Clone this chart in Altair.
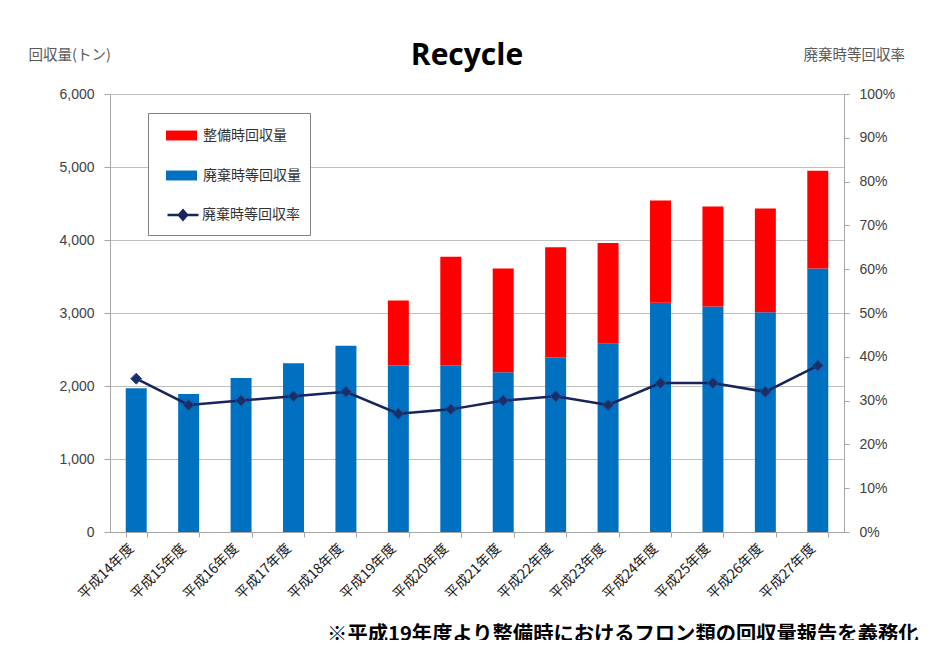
import altair as alt
import pandas as pd

# ---- data ----
years = ["平成14年度", "平成15年度", "平成16年度", "平成17年度", "平成18年度", "平成19年度", "平成20年度",
         "平成21年度", "平成22年度", "平成23年度", "平成24年度", "平成25年度", "平成26年度", "平成27年度"]
haiki_amount = [1970, 1890, 2110, 2310, 2550, 2280, 2280, 2190, 2390, 2580, 3140, 3090, 3010, 3610]
seibi_amount = [0, 0, 0, 0, 0, 890, 1490, 1420, 1510, 1380, 1400, 1370, 1420, 1340]
haiki_rate = [0.35, 0.29, 0.30, 0.31, 0.32, 0.27, 0.28, 0.30, 0.31, 0.29, 0.34, 0.34, 0.32, 0.38]

bar_names = ["整備時回収量", "廃棄時等回収量"]
bar_colors = ["#FF0000", "#0070C0"]
line_name = "廃棄時等回収率"
line_color = "#17245E"
marker_color = "#17306B"

left_ticks = [0, 1000, 2000, 3000, 4000, 5000, 6000]
right_ticks = [0, 0.1, 0.2, 0.3, 0.4, 0.5, 0.6, 0.7, 0.8, 0.9, 1.0]

title_text = "Recycle"
left_title = "回収量(トン)"
right_title = "廃棄時等回収率"
note_text = "※平成19年度より整備時におけるフロン類の回収量報告を義務化"

# ---- tables ----
rows = []
for y, h, s in zip(years, haiki_amount, seibi_amount):
    rows.append({"年度": y, "系列": bar_names[1], "回収量": h, "順": 0})
    rows.append({"年度": y, "系列": bar_names[0], "回収量": s, "順": 1})
bars_df = pd.DataFrame(rows)
rate_df = pd.DataFrame({"年度": years, "回収率": haiki_rate, "系列": [line_name] * len(years)})

JP = "Noto Sans CJK JP"
NUM = "Liberation Sans"

RECT_PATH = "M-1,-0.32H1V0.32H-1Z"
LINE_PATH = "M-1,0H1M0,-0.3L0.26,0L0,0.3L-0.26,0Z"

legend_bars = alt.Legend(
    title=None, orient="none", legendX=56, legendY=26, direction="vertical",
    symbolType=RECT_PATH, symbolSize=961, symbolStrokeWidth=0,
    labelFont=JP, labelFontSize=14, labelColor="#333333", labelOffset=6,
    rowPadding=17, padding=0, zindex=2,
)
# this legend also draws the shared frame; its blank title reserves room for the bar entries
legend_line = alt.Legend(
    title="\u3000", titleFontSize=14, titlePadding=61,
    orient="none", legendX=38, legendY=19, direction="vertical",
    symbolType=LINE_PATH, symbolSize=961, symbolStrokeWidth=2.5,
    symbolFillColor=line_color, symbolStrokeColor=line_color, symbolOffset=8,
    labelFont=JP, labelFontSize=14, labelColor="#333333", labelOffset=2,
    padding=10, strokeColor="#808080", fillColor="white", zindex=1,
)

x_enc = alt.X(
    "年度:N", sort=years,
    scale=alt.Scale(paddingInner=0.6, paddingOuter=0.3),
    axis=alt.Axis(
        title=note_text, titleFont=JP, titleFontSize=20.3, titleFontWeight="bold", titleColor="#000000",
        titleAnchor="end", titleAlign="right", titleX=808, titleY=92, titleBaseline="top",
        labelAngle=-45, labelAlign="right", labelBaseline="middle", labelFont=JP, labelFontSize=14,
        labelColor="#1a1a1a", labelPadding=9, labelOffset=-5,
        tickBand="extent", tickSize=5, tickColor="#a6a6a6", domainColor="#a6a6a6",
        grid=False,
    ),
)

bars = alt.Chart(bars_df).mark_bar().encode(
    x=x_enc,
    y=alt.Y("回収量:Q", stack="zero",
            scale=alt.Scale(domain=[0, 6000], nice=False),
            axis=alt.Axis(values=left_ticks, format=",.0f", title=left_title, titleAngle=0,
                          titleAlign="left", titleBaseline="middle", titleX=-82, titleY=-39,
                          titleFont=JP, titleFontSize=14.5, titleFontWeight="normal", titleColor="#595959",
                          labelFont=NUM, labelFontSize=14, labelColor="#404040", labelPadding=10,
                          tickSize=6, tickColor="#a6a6a6", domainColor="#a6a6a6",
                          grid=True, gridColor="#bfbfbf", gridWidth=1)),
    color=alt.Color("系列:N", scale=alt.Scale(domain=bar_names, range=bar_colors), legend=legend_bars),
    order=alt.Order("順:Q", sort="ascending"),
)

right_axis = alt.Axis(values=right_ticks, format=".0%", orient="right", title=right_title, titleAngle=0,
                      titleAlign="left", titleBaseline="middle", titleX=-41, titleY=-39,
                      titleFont=JP, titleFontSize=14.5, titleFontWeight="normal", titleColor="#595959",
                      labelFont=NUM, labelFontSize=14, labelColor="#404040", labelPadding=10,
                      tickSize=5, tickColor="#a6a6a6", domainColor="#a6a6a6", grid=False)
y_rate = alt.Y("回収率:Q", scale=alt.Scale(domain=[0, 1], nice=False), axis=right_axis)

line = alt.Chart(rate_df).mark_line(strokeWidth=2.5).encode(
    x=alt.X("年度:N", sort=years),
    y=y_rate,
    stroke=alt.Stroke("系列:N", scale=alt.Scale(domain=[line_name], range=[line_color]), legend=legend_line),
)
points = alt.Chart(rate_df).mark_point(shape="diamond", filled=True, size=120, opacity=1,
                                       stroke="#2E4A8A", strokeWidth=1).encode(
    x=alt.X("年度:N", sort=years),
    y=y_rate,
    fill=alt.value(marker_color),
)

title_layer = alt.Chart(pd.DataFrame({"t": [title_text]})).mark_text(
    font="Open Sans", fontSize=30, fontWeight="bold", color="#000000",
    align="center", baseline="alphabetic",
).encode(text="t:N", x=alt.value(357), y=alt.value(-29))

chart = alt.layer(
    bars, alt.layer(line, points), title_layer
).resolve_scale(y="independent").properties(
    width=734, height=438,
    autosize="none",
    padding={"left": 102, "top": 86, "right": 80, "bottom": 108},
).configure_view(strokeWidth=0).configure(background="white")

chart.save("out.html", embed_options={"renderer": "svg", "actions": False})
